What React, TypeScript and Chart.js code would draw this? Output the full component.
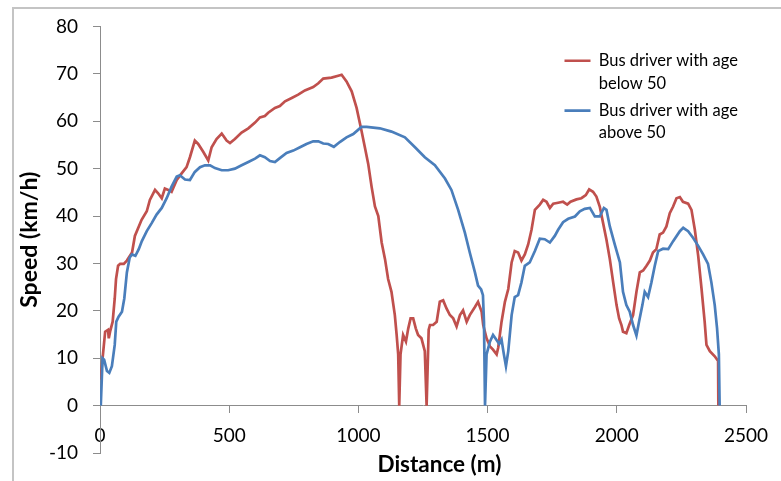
import React, { useEffect, useRef } from 'react';
import { Chart, registerables } from 'chart.js';

Chart.register(...registerables);

// ---- data ----
const seriesLabels = ['Bus driver with age below 50', 'Bus driver with age above 50'];
const legendLines = [
  ['Bus driver with age', 'below 50'],
  ['Bus driver with age', 'above 50'],
];
const xTitle = 'Distance (m)';
const yTitle = 'Speed (km/h)';

const belowDistance = [
  2, 20, 31, 34, 39, 49, 57, 62, 70, 78, 92, 104, 124, 135, 161, 181, 193, 213, 225, 239,
  251, 264, 277, 297, 316, 335, 348, 367, 380, 400, 419, 432, 451, 471, 490, 503, 522, 548, 574, 600,
  619, 638, 651, 677, 696, 716, 742, 767, 793, 825, 845, 864, 896, 922, 935, 954, 974, 993, 1012, 1025,
  1038, 1051, 1064, 1077, 1090, 1103, 1115, 1128, 1141, 1148, 1154, 1158, 1163, 1173, 1184, 1193, 1202, 1212, 1222, 1231,
  1244, 1257, 1264, 1272, 1277, 1289, 1303, 1315, 1328, 1341, 1354, 1367, 1380, 1393, 1405, 1419, 1431, 1451, 1463, 1477,
  1483, 1496, 1509, 1521, 1535, 1541, 1554, 1567, 1580, 1593, 1605, 1618, 1631, 1644, 1657, 1670, 1683, 1702, 1715, 1728,
  1741, 1754, 1773, 1792, 1808, 1821, 1844, 1863, 1880, 1893, 1908, 1921, 1934, 1947, 1960, 1973, 1986, 1999, 2009, 2018,
  2024, 2037, 2048, 2063, 2076, 2089, 2102, 2115, 2128, 2140, 2153, 2166, 2179, 2192, 2205, 2218, 2231, 2244, 2256, 2276,
  2289, 2302, 2315, 2328, 2340, 2347, 2360, 2379, 2392, 2393,
];
const belowSpeed = [
  5.5, 15.6, 16, 14.2, 15.6, 17.7, 22.6, 26.7, 29.5, 29.9, 29.9, 30.6, 32.3, 35.8, 39.2, 41, 43.4, 45.5, 44.8, 43.75,
  45.8, 45.5, 45.1, 47.6, 49, 50.3, 52.4, 55.9, 55.2, 53.5, 51.7, 54.5, 56.25, 57.4, 55.9, 55.4, 56.25, 57.6, 58.5, 59.7,
  60.8, 61.1, 61.8, 62.8, 63.2, 64.2, 64.9, 65.6, 66.5, 67.2, 68, 69, 69.2, 69.6, 69.8, 68.4, 66.3, 62.8, 58, 54.5,
  51, 46.2, 42, 40, 34.4, 30.9, 26.7, 24, 19.1, 14.9, 10.8, 0, 10.8, 14.9, 13.5, 16.3, 18.4, 18.4, 16.3, 14.9,
  14.2, 11.5, 0, 16, 17, 17, 17.7, 21.9, 22.2, 20.5, 19.1, 18.4, 16.7, 19.1, 20.1, 17.7, 19.1, 20.8, 21.9, 19.8,
  17, 14.2, 12.5, 11.8, 10.8, 12.2, 17.7, 21.9, 24.6, 30.2, 32.6, 32.3, 30.6, 31.9, 34, 37.1, 41.3, 42.4, 43.4, 43,
  41.7, 42.6, 42.8, 43, 42.4, 43, 43.5, 43.75, 44.4, 45.6, 45.1, 44.1, 42, 38.5, 35, 30.9, 26, 21.2, 18.4, 17,
  15.6, 15.3, 17, 19.1, 24, 28.1, 28.5, 29.5, 30.6, 32.3, 33, 36.1, 36.5, 37.8, 40.6, 42, 43.75, 44, 43, 42.6,
  41.3, 37.1, 31.6, 24.6, 17.7, 12.8, 11.5, 10.4, 9.4, 0,
];

const aboveDistance = [
  3, 10, 16, 27, 36, 46, 57, 63, 72, 85, 94, 104, 115, 124, 137, 150, 162, 181, 200, 219,
  239, 258, 277, 297, 309, 329, 348, 367, 387, 406, 426, 445, 471, 496, 522, 548, 574, 600, 619, 638,
  658, 677, 696, 722, 748, 774, 799, 825, 845, 864, 883, 905, 928, 954, 980, 1012, 1032, 1083, 1128, 1180,
  1219, 1257, 1296, 1335, 1360, 1386, 1412, 1431, 1451, 1463, 1475, 1482, 1486, 1490, 1496, 1509, 1521, 1530, 1545, 1554,
  1563, 1571, 1580, 1593, 1605, 1618, 1631, 1644, 1663, 1683, 1702, 1721, 1741, 1760, 1773, 1792, 1812, 1838, 1857, 1876,
  1896, 1915, 1934, 1950, 1960, 1973, 1992, 2012, 2024, 2037, 2050, 2063, 2076, 2086, 2099, 2108, 2121, 2134, 2147, 2160,
  2179, 2199, 2218, 2244, 2257, 2276, 2295, 2315, 2334, 2353, 2366, 2379, 2388, 2395, 2398,
];
const aboveSpeed = [
  0, 10, 9.7, 7.3, 6.9, 8.3, 12.8, 17.7, 18.75, 19.8, 22.6, 28.1, 31.25, 31.9, 31.6, 33, 34.7, 36.8, 38.5, 40.3,
  41.7, 43.75, 46.2, 48.3, 48.6, 47.7, 47.6, 49.3, 50.3, 50.7, 50.7, 50.1, 49.65, 49.65, 50, 50.7, 51.4, 52.1, 52.8, 52.4,
  51.6, 51.4, 52.2, 53.3, 53.8, 54.5, 55.2, 55.75, 55.75, 55.3, 55.2, 54.6, 55.6, 56.6, 57.3, 58.8, 58.8, 58.5, 57.8, 56.6,
  54.5, 52.4, 50.7, 47.9, 45.5, 41.3, 36.5, 32.3, 28.1, 25.3, 24.5, 23.3, 17.7, 0, 10.8, 13.5, 14.9, 14.2, 13, 13.9,
  10.8, 8.3, 11.5, 19.1, 22.9, 23.3, 26, 29.5, 30.2, 32.6, 35.2, 35.1, 34.4, 35.8, 37.1, 38.7, 39.4, 39.9, 41, 41.5,
  41.7, 39.9, 39.9, 41.7, 41.3, 37.8, 34, 30.2, 24, 21.2, 19.8, 17, 14.8, 17.7, 21.2, 24, 22.9, 26, 29.5, 32.6,
  33.1, 33, 34.7, 36.8, 37.5, 36.8, 35.4, 33.7, 31.9, 29.9, 26, 21.2, 16.3, 10.8, 0,
];

const xMin = 0;
const xMax = 2500;
const xStep = 500;
const yMin = -10;
const yMax = 80;
const yStep = 10;

// ---- styles ----
const FONT = 'Lato, "Open Sans", "DejaVu Sans", sans-serif';
const AXIS_COLOR = '#8c8c8c';
const RED = '#C0504D';
const BLUE = '#4A7EBB';

const pts = (xs: number[], ys: number[]) => xs.map((x, i) => ({ x, y: ys[i] }));

const framePlugin = {
  id: 'frame',
  beforeDraw(chart: any) {
    const ctx = chart.ctx;
    ctx.save();
    ctx.strokeStyle = '#c4c4c4';
    ctx.lineWidth = 2;
    ctx.beginPath();
    ctx.moveTo(13, chart.height);
    ctx.lineTo(13, 8);
    ctx.lineTo(chart.width, 8);
    ctx.stroke();
    ctx.restore();
    const lg = chart.legend;
    if (lg) {
      lg.left = 559.5;
      lg.top = 47.5;
      lg.right = lg.left + lg.width;
      lg.bottom = chart.chartArea.bottom;
    }
  },
};

export default function App() {
  const ref = useRef<HTMLCanvasElement | null>(null);
  useEffect(() => {
    if (!ref.current) return;
    const chart = new Chart(ref.current, {
      type: 'line',
      data: {
        datasets: [
          {
            label: seriesLabels[0],
            data: pts(belowDistance, belowSpeed),
            borderColor: RED,
            backgroundColor: RED,
            borderWidth: 2.7,
            pointRadius: 0,
            tension: 0,
            fill: false,
            order: 1,
          },
          {
            label: seriesLabels[1],
            data: pts(aboveDistance, aboveSpeed),
            borderColor: BLUE,
            backgroundColor: BLUE,
            borderWidth: 2.7,
            pointRadius: 0,
            tension: 0,
            fill: false,
            order: 0,
          },
        ],
      },
      options: {
        animation: false,
        responsive: false,
        maintainAspectRatio: false,
        events: [],
        layout: { padding: { left: 10, top: 21, right: 35, bottom: 28 } },
        scales: {
          x: {
            type: 'linear',
            position: { y: 0 } as any,
            min: xMin,
            max: xMax,
            ticks: {
              stepSize: xStep,
              padding: 12,
              color: '#000',
              font: { family: FONT, size: 19 },
              maxRotation: 0,
              callback: (v: any) => String(v),
            },
            grid: { display: true, drawOnChartArea: false, drawTicks: true, tickLength: 7, color: AXIS_COLOR },
            border: { display: true, color: AXIS_COLOR, width: 1 },
            title: {
              display: true,
              text: '      ' + xTitle,
              color: '#000',
              font: { family: FONT, size: 22.5, weight: 'bold' },
              padding: { top: -8, bottom: 0 },
            },
          },
          y: {
            type: 'linear',
            position: 'left',
            min: yMin,
            max: yMax,
            afterFit: (s: any) => {
              s.width = 90;
            },
            ticks: {
              stepSize: yStep,
              padding: 15,
              color: '#000',
              font: { family: FONT, size: 19 },
              callback: (v: any) => String(v),
            },
            grid: { display: true, drawOnChartArea: false, drawTicks: true, tickLength: 7, color: AXIS_COLOR },
            border: { display: true, color: AXIS_COLOR, width: 1 },
            title: {
              display: true,
              text: yTitle,
              color: '#000',
              font: { family: FONT, size: 23, weight: 'bold' },
              padding: { top: 6, bottom: 0 },
            },
          },
        },
        plugins: {
          title: { display: false },
          tooltip: { enabled: false },
          legend: {
            display: true,
            position: 'chartArea' as any,
            align: 'start',
            labels: {
              color: '#000',
              font: { family: FONT, size: 16.5, lineHeight: 1.36 },
              usePointStyle: true,
              pointStyle: 'line',
              pointStyleWidth: 26,
              padding: 5,
              textAlign: 'left',
              sort: (a: any, b: any) => a.datasetIndex - b.datasetIndex,
              generateLabels: (c: any) =>
                Chart.defaults.plugins.legend.labels
                  .generateLabels(c)
                  .map((item: any) => ({ ...item, text: legendLines[item.datasetIndex] })),
            },
          },
        },
      },
      plugins: [framePlugin],
    });
    return () => chart.destroy();
  }, []);

  return (
    <div style={{ position: 'fixed', left: 0, top: 0, width: 781, height: 481, background: '#fff' }}>
      <canvas ref={ref} width={781} height={481} style={{ width: 781, height: 481, display: 'block' }} />
    </div>
  );
}
